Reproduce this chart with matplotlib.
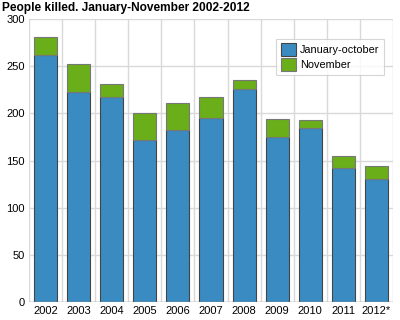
import matplotlib
matplotlib.use("Agg")
import matplotlib.pyplot as plt
import numpy as np

years = ["2002", "2003", "2004", "2005", "2006", "2007", "2008", "2009", "2010", "2011", "2012*"]
jan_oct = [262, 223, 218, 172, 183, 195, 226, 175, 185, 142, 131]
total = [281, 252, 231, 201, 211, 217, 236, 194, 193, 155, 144]
november = [t - j for t, j in zip(total, jan_oct)]

BLUE = "#3a8bc1"
GREEN = "#6aae19"

plt.rcParams["font.family"] = ["Liberation Sans", "DejaVu Sans"]

fig = plt.figure(figsize=(4, 3.2), dpi=100)
ax = fig.add_axes([0.0725, 0.056, 0.91, 0.884])

x = np.arange(len(years))
ax.bar(x, jan_oct, width=0.7, color=BLUE, edgecolor="#444444", linewidth=0.8,
       label="January-october", zorder=3)
ax.bar(x, november, bottom=jan_oct, width=0.7, color=GREEN, edgecolor="#777777",
       linewidth=0.8, label="November", zorder=3)

ax.set_xlim(-0.5, len(years) - 0.5)
ax.set_ylim(0, 300)
ax.set_yticks(range(0, 301, 50))
ax.set_xticks(x)
ax.set_xticklabels(years)
ax.set_xticks(np.arange(-0.5, len(years), 1), minor=True)
ax.tick_params(axis="both", which="both", length=0, labelsize=8, pad=3)
ax.grid(axis="y", which="major", color="#d9d9d9", linewidth=1, zorder=0)
ax.grid(axis="x", which="minor", color="#d9d9d9", linewidth=1, zorder=0)
ax.grid(axis="x", which="major", visible=False)
for s in ax.spines.values():
    s.set_visible(False)
ax.axhline(0, color="#999999", linewidth=1, zorder=4)

leg = ax.legend(loc="upper right", bbox_to_anchor=(0.99, 0.95), fontsize=7.8,
                frameon=True, fancybox=False, edgecolor="#cccccc",
                handlelength=1.4, handleheight=1.4, handletextpad=0.4,
                borderpad=0.4, labelspacing=0.25)
leg.get_frame().set_linewidth(0.8)

fig.text(0.005, 0.993, "People killed. January-November 2002-2012",
         fontsize=8.6, fontweight="bold", va="top", ha="left")

fig.savefig("out.png", dpi=100)
